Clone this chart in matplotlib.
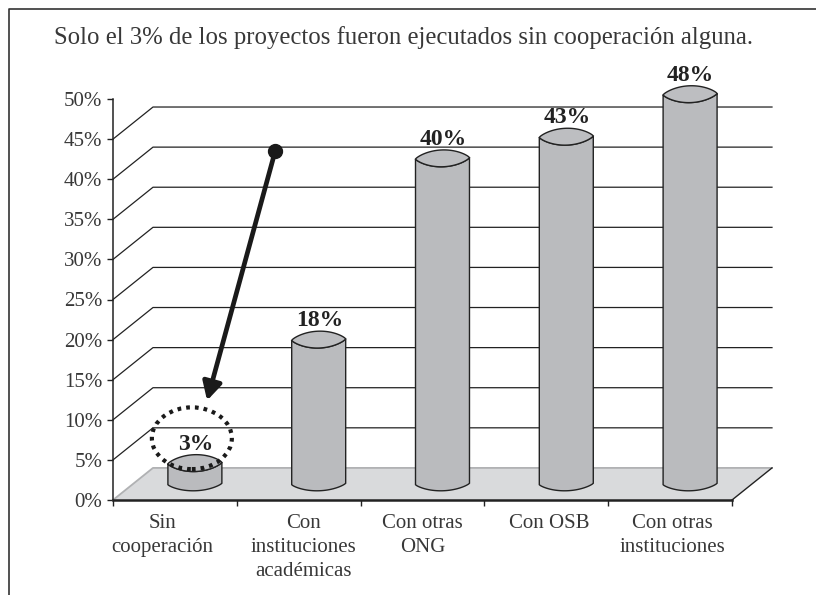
import numpy as np
from matplotlib import pyplot as plt
from matplotlib.patches import Ellipse, Polygon

plt.rcParams['font.family'] = ['Liberation Serif', 'DejaVu Serif']

title = "Solo el 3% de los proyectos fueron ejecutados sin cooperación alguna."
categories = ["Sin\ncooperación", "Con\ninstituciones\nacadémicas", "Con otras\nONG", "Con OSB", "Con otras\ninstituciones"]
values = [2.6, 18.0, 40.6, 43.3, 48.6]
value_labels = ["3%", "18%", "40%", "43%", "48%"]
y_ticks = [0, 5, 10, 15, 20, 25, 30, 35, 40, 45, 50]
y_tick_labels = ["0%", "5%", "10%", "15%", "20%", "25%", "30%", "35%", "40%", "45%", "50%"]
grid_values = [5, 10, 15, 20, 25, 30, 35, 40, 45]

# the labels sit a bit off the category centres in the original
label_pos = [0.40, 1.535, 2.50, 3.52, 4.52]

# fake 3d: depth of the floor in axis units
depth_x = 0.323
depth_y = 4.0
col_half = 0.218
col_base = 2.0

dark = '#222222'
text_col = '#383838'
bar_col = '#babbbe'
floor_col = '#d9dadc'
floor_edge = '#b0b1b3'

W, H = 816, 595
fig = plt.figure(figsize=(W / 100, H / 100), dpi=100)
ax = fig.add_axes([113 / W, (H - 500) / H, 619 / W, 401 / H])
ax.set_xlim(0, 5)
ax.set_ylim(0, 50)
ax.patch.set_visible(False)

for s in ['top', 'right']:
    ax.spines[s].set_visible(False)
ax.spines['left'].set_linewidth(1.1)
ax.spines['left'].set_color(dark)
ax.spines['bottom'].set_linewidth(1.8)
ax.spines['bottom'].set_color(dark)

ax.set_yticks(y_ticks)
ax.set_yticklabels(y_tick_labels, fontsize=15, color=text_col)
ax.tick_params(axis='y', length=4.6, width=1, color=dark, pad=3)
ax.set_xticks(np.arange(6))
ax.set_xticklabels([])
ax.tick_params(axis='x', which='major', length=4.6, width=1, color=dark)
ax.set_xticks(label_pos, minor=True)
ax.set_xticklabels(categories, minor=True, fontsize=15, color=text_col, linespacing=1.36)
ax.tick_params(axis='x', which='minor', length=0, pad=10)

# walls
back_right = 5 + depth_x
for v in grid_values:
    ax.plot([0, depth_x, back_right], [v, v + depth_y, v + depth_y], color=dark, lw=0.9, clip_on=False, zorder=1)

# floor
floor = Polygon([(0, 0), (depth_x, depth_y), (back_right, depth_y), (5, 0)], closed=True,
                facecolor=floor_col, edgecolor='none', zorder=2, clip_on=False)
ax.add_patch(floor)
ax.plot([0, depth_x, back_right], [0, depth_y, depth_y], color=floor_edge, lw=1.3, zorder=2, clip_on=False)
ax.plot([5, back_right], [0, depth_y], color=dark, lw=1.0, zorder=2, clip_on=False)

# columns
t = np.linspace(-1, 1, 60)
for i, v in enumerate(values):
    xc = i + 0.5 + depth_x / 2
    xs = xc + col_half * t
    top = col_base + v
    tilt = 0.09 * t
    arc = (1 - t ** 2) ** 0.8
    front = top + tilt - 1.05 * arc
    back = top + tilt + 1.05 * arc
    bottom = col_base + tilt - 0.85 * arc
    body = np.vstack([np.column_stack([xs, front]), np.column_stack([xs, bottom])[::-1]])
    ax.add_patch(Polygon(body, closed=True, facecolor=bar_col, edgecolor=dark, lw=1.0, zorder=3, clip_on=False))
    lens = np.vstack([np.column_stack([xs, back]), np.column_stack([xs, front])[::-1]])
    ax.add_patch(Polygon(lens, closed=True, facecolor='#bdbec1', edgecolor=dark, lw=1.0, zorder=4, clip_on=False))
    ax.text(xc + 0.005, top + 1.05, value_labels[i], ha='center', va='bottom', fontsize=17, fontweight='bold',
            color=dark, zorder=6, clip_on=False)

# dotted circle round the 3%
ax.add_patch(Ellipse((0.637, 7.7), 0.646, 7.7, fill=False, edgecolor='#1a1a1a', lw=3,
                     linestyle=(0, (0.9, 1.2)), zorder=5, clip_on=False))

# arrow from the dot down to the circle
ax.annotate('', xy=(0.76, 12.4), xytext=(1.31, 43.5),
            arrowprops=dict(arrowstyle='-|>,head_length=0.6,head_width=0.32', color='#1a1a1a', lw=3.4,
                            mutation_scale=18, shrinkA=0, shrinkB=0), zorder=5)
ax.plot([1.31], [43.5], 'o', ms=10, color='#1a1a1a', zorder=5, clip_on=False)

fig.text(404 / W, 1 - 38 / H, title, ha='center', va='center', fontsize=17.8, color=text_col)

# frame, only left and top are in the crop
fig.add_artist(plt.Line2D([9 / W, 9 / W, 1], [0, 1 - 9 / H, 1 - 9 / H], color='#333333', lw=1.2))

fig.savefig('out.png', dpi=100, facecolor='white')
